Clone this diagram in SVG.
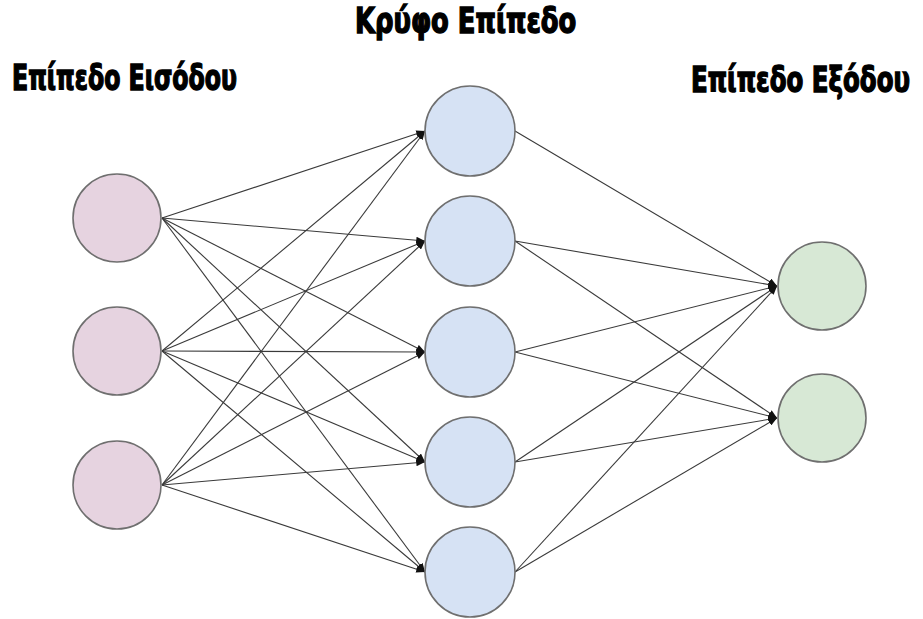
<svg xmlns="http://www.w3.org/2000/svg" width="923" height="619" viewBox="0 0 923 619">
  <style>
    .label { font-family: 'DejaVu Sans Condensed', 'DejaVu Sans', sans-serif; font-weight: bold; font-stretch: condensed; font-size: 35px; fill: #000; stroke: #000; stroke-width: 1.4; }
    .node { stroke: #6f6f6f; stroke-width: 1.6; }
    .in { fill: #e6d3e0; }
    .hid { fill: #d6e2f4; }
    .out { fill: #d7e8d5; }
    .edge { stroke: #3a3a3a; stroke-width: 1.1; fill: none; marker-end: url(#arrow); }
  </style>
  <defs>
    <marker id="arrow" viewBox="0 0 10 8" refX="10" refY="4" markerWidth="9" markerHeight="7" markerUnits="userSpaceOnUse" orient="auto">
      <path d="M0,0 L10,4 L0,8 z" fill="#111"/>
    </marker>
  </defs>
  <rect width="923" height="619" fill="#fff"/>

  <!-- layer titles: narrowed horizontally for a condensed look -->
  <text class="label" transform="translate(12,90) scale(0.75,1)" x="0" y="0" textLength="300" lengthAdjust="spacingAndGlyphs">Επίπεδο Εισόδου</text>
  <text class="label" transform="translate(355,33) scale(0.75,1)" x="0" y="0" textLength="295" lengthAdjust="spacingAndGlyphs">Κρύφο Επίπεδο</text>
  <text class="label" transform="translate(691,92) scale(0.75,1)" x="0" y="0" textLength="292" lengthAdjust="spacingAndGlyphs">Επίπεδο Εξόδου</text>

  <!-- connectors -->
  <g id="connectors">
    <!-- input 1 -->
    <line class="edge" x1="162" y1="218" x2="425" y2="131"/>
    <line class="edge" x1="162" y1="218" x2="425" y2="241"/>
    <line class="edge" x1="162" y1="218" x2="425" y2="352"/>
    <line class="edge" x1="162" y1="218" x2="425" y2="462"/>
    <line class="edge" x1="162" y1="218" x2="425" y2="572"/>
    <!-- input 2 -->
    <line class="edge" x1="162" y1="351" x2="425" y2="131"/>
    <line class="edge" x1="162" y1="351" x2="425" y2="241"/>
    <line class="edge" x1="162" y1="351" x2="425" y2="352"/>
    <line class="edge" x1="162" y1="351" x2="425" y2="462"/>
    <line class="edge" x1="162" y1="351" x2="425" y2="572"/>
    <!-- input 3 -->
    <line class="edge" x1="162" y1="485" x2="425" y2="131"/>
    <line class="edge" x1="162" y1="485" x2="425" y2="241"/>
    <line class="edge" x1="162" y1="485" x2="425" y2="352"/>
    <line class="edge" x1="162" y1="485" x2="425" y2="462"/>
    <line class="edge" x1="162" y1="485" x2="425" y2="572"/>
    <!-- hidden to output 1 -->
    <line class="edge" x1="515" y1="131" x2="777" y2="286"/>
    <line class="edge" x1="515" y1="241" x2="777" y2="286"/>
    <line class="edge" x1="515" y1="352" x2="777" y2="286"/>
    <line class="edge" x1="515" y1="462" x2="777" y2="286"/>
    <line class="edge" x1="515" y1="572" x2="777" y2="286"/>
    <!-- hidden to output 2 -->
    <line class="edge" x1="515" y1="241" x2="777" y2="418"/>
    <line class="edge" x1="515" y1="352" x2="777" y2="418"/>
    <line class="edge" x1="515" y1="462" x2="777" y2="418"/>
    <line class="edge" x1="515" y1="572" x2="777" y2="418"/>
  </g>

  <!-- input layer -->
  <g id="in1"><circle class="node in" cx="117" cy="218" r="44"/></g>
  <g id="in2"><circle class="node in" cx="117" cy="351" r="44"/></g>
  <g id="in3"><circle class="node in" cx="117" cy="485" r="44"/></g>

  <!-- hidden layer -->
  <g id="h1"><circle class="node hid" cx="470" cy="131" r="45"/></g>
  <g id="h2"><circle class="node hid" cx="470" cy="241" r="45"/></g>
  <g id="h3"><circle class="node hid" cx="470" cy="352" r="45"/></g>
  <g id="h4"><circle class="node hid" cx="470" cy="462" r="45"/></g>
  <g id="h5"><circle class="node hid" cx="470" cy="572" r="45"/></g>

  <!-- output layer -->
  <g id="out1"><circle class="node out" cx="822" cy="286" r="44"/></g>
  <g id="out2"><circle class="node out" cx="822" cy="418" r="44"/></g>
</svg>
